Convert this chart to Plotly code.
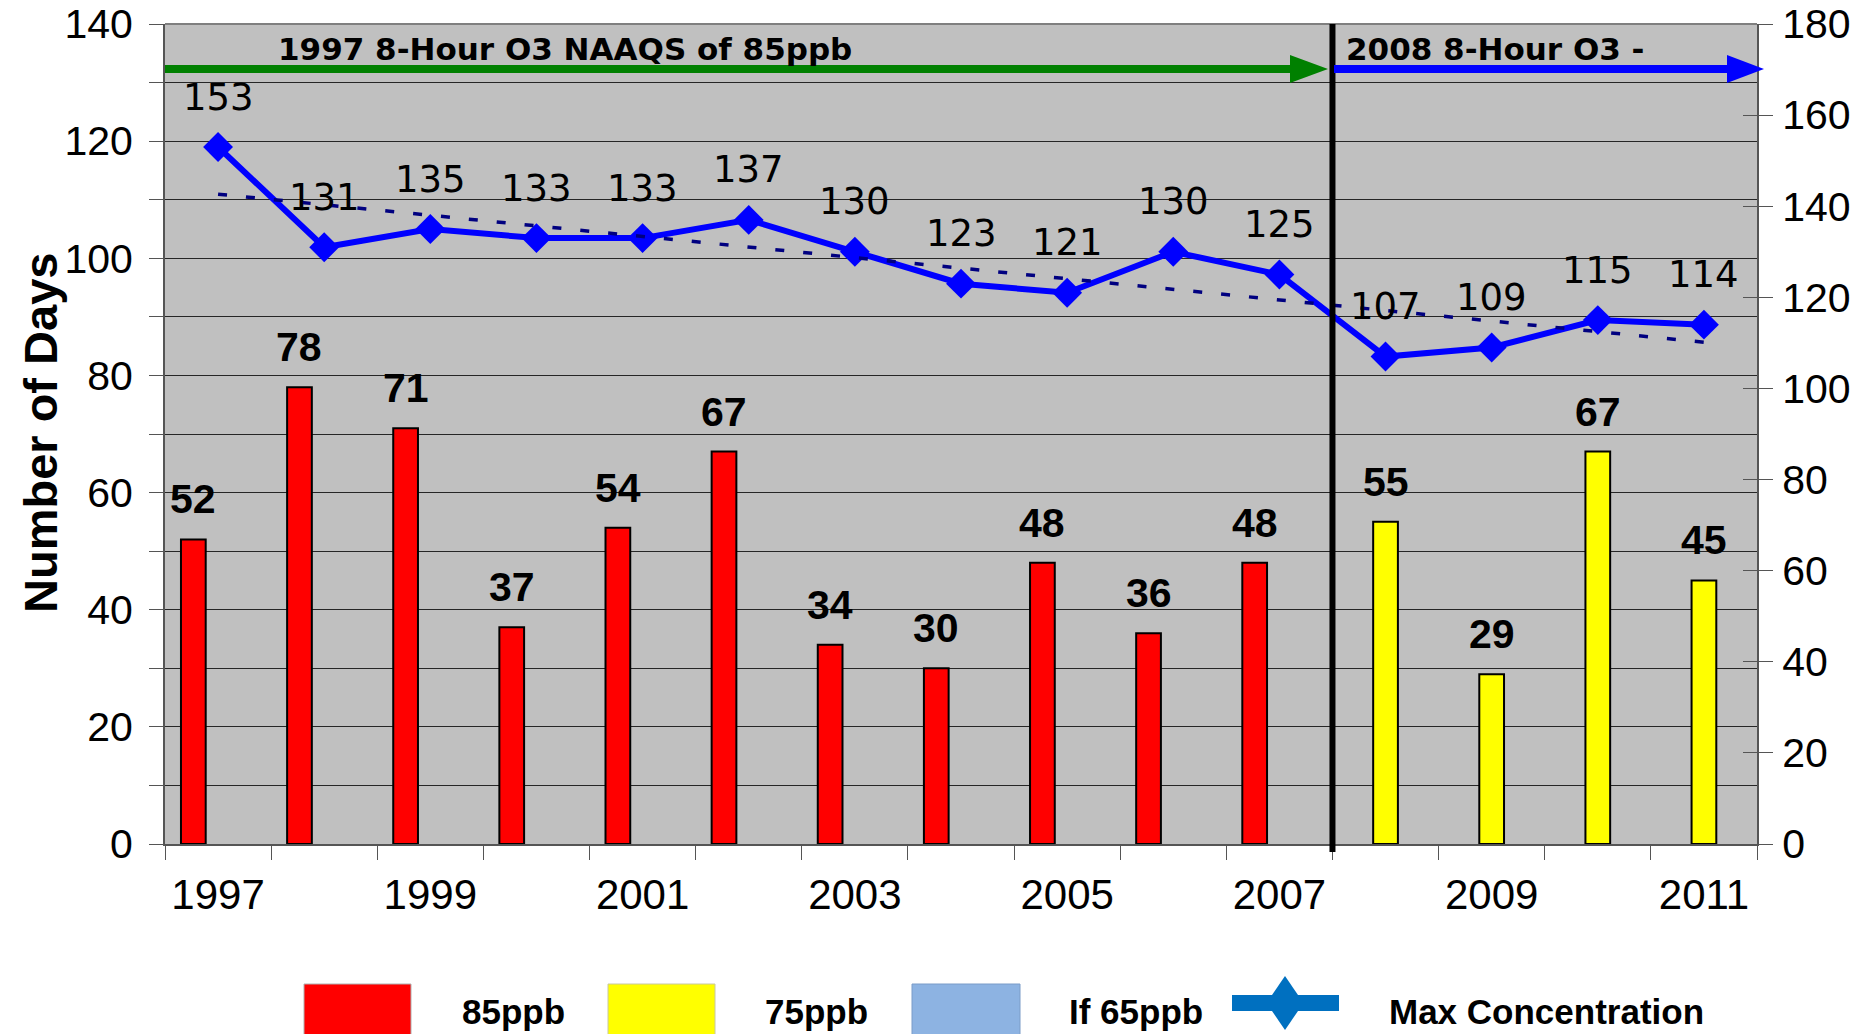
import numpy as np
import plotly.graph_objects as go

# ---------------- data ----------------
years = [str(y) for y in range(1997, 2012)]
tick_text = [y if int(y) % 2 == 1 else "" for y in years]
days_85ppb = [52, 78, 71, 37, 54, 67, 34, 30, 48, 36, 48, None, None, None, None]
days_75ppb = [None] * 11 + [55, 29, 67, 45]
days_65ppb = [None] * 15
max_conc = [153, 131, 135, 133, 133, 137, 130, 123, 121, 130, 125, 107, 109, 115, 114]

standard_1997 = "1997 8-Hour O3 NAAQS of 85ppb"
standard_2008 = "2008 8-Hour O3 -"
legend_names = ["85ppb", "75ppb", "If 65ppb", "Max Concentration"]

# ---------------- geometry helpers (page pixel coords) ----------------
W, H = 1872, 1034
L, R, T, B = 165, 1757, 24, 844    # plot area in page pixels
def xp(px):
    return (px - L) / (R - L)
def yp(py):
    return (B - py) / (B - T)

FONT = "Liberation Sans, Arial, sans-serif"
bar_w = 0.233
offsets = [-1.5 * bar_w, -0.5 * bar_w, 0.5 * bar_w]
colors = ["#FF0000", "#FFFF00", "#8DB3E2"]
series = [days_85ppb, days_75ppb, days_65ppb]

fig = go.Figure()
for name, vals, col, off in zip(legend_names[:3], series, colors, offsets):
    fig.add_trace(go.Bar(
        x=years, y=vals, name=name, width=bar_w, offset=off,
        marker=dict(color=col, line=dict(color="#000000", width=2)),
        showlegend=False, yaxis="y",
    ))

idx = np.arange(len(years))
slope, intercept = np.polyfit(idx, max_conc, 1)
trend = slope * idx + intercept
fig.add_trace(go.Scatter(
    x=years, y=trend, mode="lines", yaxis="y3", showlegend=False,
    line=dict(color="#000080", width=3.5, dash="9px,19px"),
))
fig.add_trace(go.Scatter(
    x=years, y=max_conc, mode="lines+markers", yaxis="y2", name=legend_names[3],
    showlegend=False, line=dict(color="#0000FF", width=6),
    marker=dict(symbol="diamond", size=23, color="#0000FF"),
))

annotations = []
# bar labels
for vals, off in zip(series, offsets):
    for i, v in enumerate(vals):
        if v is None:
            continue
        annotations.append(dict(
            x=i + off + bar_w / 2, y=v, xref="x", yref="y", text=f"<b>{v}</b>",
            showarrow=False, yshift=40, yanchor="middle",
            font=dict(family=FONT, size=41, color="#000000"),
        ))
# line labels
for i, v in enumerate(max_conc):
    annotations.append(dict(
        x=i, y=v, xref="x", yref="y2", text=str(v), showarrow=False,
        yshift=50, yanchor="middle",
        font=dict(family="DejaVu Sans", size=37, color="#000000"),
    ))
# standard labels
annotations.append(dict(
    x=xp(276), y=yp(49), xref="paper", yref="paper", text=f"<b>{standard_1997}</b>",
    showarrow=False, xanchor="left", yanchor="middle",
    font=dict(family="DejaVu Sans", size=31, color="#000000"),
))
annotations.append(dict(
    x=xp(1344), y=yp(49), xref="paper", yref="paper", text=f"<b>{standard_2008}</b>",
    showarrow=False, xanchor="left", yanchor="middle",
    font=dict(family="DejaVu Sans", size=31, color="#000000"),
))
# y title
annotations.append(dict(
    x=xp(40), y=yp(433), xref="paper", yref="paper", text="<b>Number of Days</b>",
    showarrow=False, textangle=-90, xanchor="center", yanchor="middle",
    font=dict(family=FONT, size=47, color="#000000"),
))
# legend texts
legend_text_x = [460, 763, 1067, 1387]
for name, lx in zip(legend_names, legend_text_x):
    annotations.append(dict(
        x=xp(lx), y=yp(1011), xref="paper", yref="paper", text=f"<b>{name}</b>",
        showarrow=False, xanchor="left", yanchor="middle",
        font=dict(family=FONT, size=35, color="#000000"),
    ))

shapes = []
# top border
shapes.append(dict(type="line", xref="paper", yref="paper", x0=0, x1=1, y0=1, y1=1,
                   line=dict(color="#7F7F7F", width=2)))
# divider between standards
shapes.append(dict(type="line", xref="x", yref="paper", x0=10.5, x1=10.5,
                   y0=yp(852), y1=1, line=dict(color="#000000", width=6)))
# arrows
ay = 69
shapes.append(dict(type="line", xref="paper", yref="paper", x0=xp(165), x1=xp(1294),
                   y0=yp(ay), y1=yp(ay), line=dict(color="#008000", width=8)))
shapes.append(dict(type="path", xref="paper", yref="paper",
                   path=f"M {xp(1290)},{yp(ay-14)} L {xp(1328)},{yp(ay)} L {xp(1290)},{yp(ay+14)} Z",
                   fillcolor="#008000", line=dict(width=0)))
shapes.append(dict(type="line", xref="paper", yref="paper", x0=xp(1334), x1=xp(1730),
                   y0=yp(ay), y1=yp(ay), line=dict(color="#0000FF", width=8)))
shapes.append(dict(type="path", xref="paper", yref="paper",
                   path=f"M {xp(1727)},{yp(ay-14)} L {xp(1764)},{yp(ay)} L {xp(1727)},{yp(ay+14)} Z",
                   fillcolor="#0000FF", line=dict(width=0)))
# legend symbols
box_x = [(304, 411), (608, 715), (912, 1020)]
box_line = ["#B0B0B0", "#C8C8A0", "#7A9CC8"]
for (x0, x1), col, lc in zip(box_x, colors, box_line):
    shapes.append(dict(type="rect", xref="paper", yref="paper",
                       x0=xp(x0), x1=xp(x1), y0=yp(984), y1=yp(1045),
                       fillcolor=col, line=dict(color=lc, width=1)))
shapes.append(dict(type="rect", xref="paper", yref="paper",
                   x0=xp(1232), x1=xp(1339), y0=yp(995), y1=yp(1011),
                   fillcolor="#0070C0", line=dict(width=0)))
shapes.append(dict(type="path", xref="paper", yref="paper",
                   path=(f"M {xp(1285)},{yp(976)} L {xp(1298)},{yp(995)} L {xp(1298)},{yp(1011)} "
                         f"L {xp(1285)},{yp(1030)} L {xp(1272)},{yp(1011)} L {xp(1272)},{yp(995)} Z"),
                   fillcolor="#0070C0", line=dict(width=0)))

grid_col = "#262626"
fig.update_layout(
    width=W, height=H,
    margin=dict(l=L, r=W - R, t=T, b=H - B, autoexpand=False),
    paper_bgcolor="#FFFFFF", plot_bgcolor="#C0C0C0",
    barmode="overlay", showlegend=False,
    font=dict(family=FONT, color="#000000"),
    xaxis=dict(
        type="category", categoryorder="array", categoryarray=years,
        range=[-0.5, 14.5], tickmode="array", tickvals=years, ticktext=tick_text,
        tickson="boundaries", ticks="outside", ticklen=14, tickwidth=1, tickcolor="#555555",
        showline=True, linecolor="#555555", linewidth=2, showgrid=False, zeroline=False,
        tickfont=dict(family=FONT, size=42), ticklabelstandoff=13,
    ),
    yaxis=dict(
        range=[0, 140], tick0=0, dtick=20, ticks="outside", ticklen=14, tickcolor="#555555",
        showline=True, linecolor="#555555", linewidth=2,
        showgrid=True, gridcolor=grid_col, gridwidth=1, zeroline=False,
        tickfont=dict(family=FONT, size=41), ticklabelstandoff=8,
        ticklabeloverflow="allow",
        minor=dict(dtick=10, ticks="outside", ticklen=14, tickcolor="#555555",
                   showgrid=True, gridcolor=grid_col, gridwidth=1),
    ),
    yaxis2=dict(
        range=[0, 180], tick0=0, dtick=20, overlaying="y", side="right",
        ticks="outside", ticklen=14, tickcolor="#555555",
        showline=True, linecolor="#555555", linewidth=2, showgrid=False, zeroline=False,
        tickfont=dict(family=FONT, size=41), ticklabelstandoff=1,
        ticklabeloverflow="allow",
    ),
    yaxis3=dict(
        range=[0, 180], tick0=0, dtick=20, overlaying="y", side="right",
        ticks="inside", ticklen=14, tickcolor="#555555", showticklabels=False,
        showline=False, showgrid=False, zeroline=False,
    ),
    annotations=annotations, shapes=shapes,
)

fig.write_html("out.html", config={"displayModeBar": False},
               post_script="document.body.style.margin='0';")
